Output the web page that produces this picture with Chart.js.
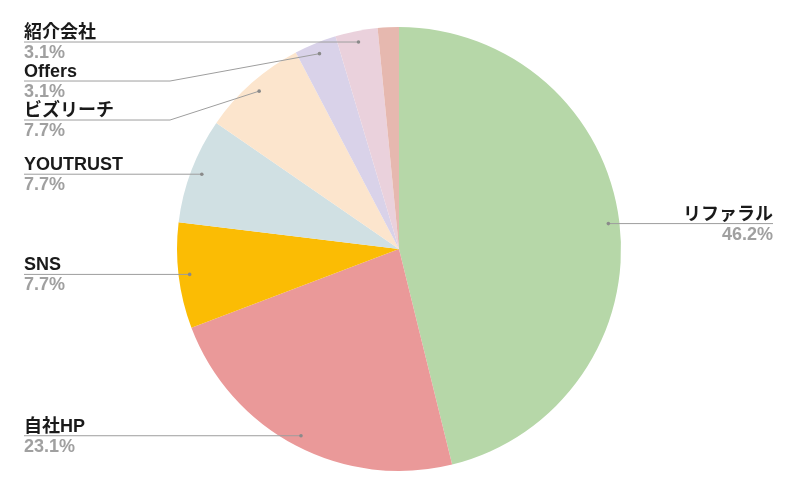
<!DOCTYPE html>
<html>
<head>
<meta charset="utf-8">
<script src="https://cdn.jsdelivr.net/npm/chart.js@4"></script>
<style>
  html, body { margin: 0; padding: 0; background: #fff; }
  #wrap { width: 798px; height: 496px; }
</style>
</head>
<body>
<div id="wrap"><canvas id="chart" width="798" height="496"></canvas></div>
<script>
// channels (clockwise from 12 o'clock)
const labels = ['リファラル', '自社HP', 'SNS', 'YOUTRUST', 'ビズリーチ', 'Offers', '紹介会社', 'その他'];
const counts = [30, 15, 5, 5, 5, 2, 2, 1];
const colors = ['#b6d7a8', '#ea9999', '#fbbc04', '#d0e0e3', '#fce5cd', '#d9d2e9', '#ead1dc', '#e6b8af'];
// which slices get an outside label
const showLabel = [true, true, true, true, true, true, true, false];

const FONT = '"Liberation Sans", Arial, "Noto Sans CJK JP", sans-serif';

/**
 * Google-Sheets-like outside labels: dot in the slice, leader line,
 * name above the line, percentage below it.
 */
const leaderLabels = {
    id: 'leaderLabels',
    afterDatasetsDraw(chart) {
        const ctx = chart.ctx;
        const meta = chart.getDatasetMeta(0);
        const total = counts.reduce((a, b) => a + b, 0);
        const left = [];
        const right = [];

        meta.data.forEach((arc, i) => {
            if (!showLabel[i]) return;
            const mid = (arc.startAngle + arc.endAngle) / 2;
            const r = arc.outerRadius * 0.95;
            const p = {
                i,
                x: arc.x + Math.cos(mid) * r,
                y: arc.y + Math.sin(mid) * r,
                pct: (counts[i] / total * 100).toFixed(1) + '%'
            };
            (p.x < arc.x ? left : right).push(p);
        });

        const place = (list) => {
            list.sort((a, b) => a.y - b.y);
            let prev = -Infinity;
            list.forEach(p => {
                p.ly = Math.max(p.y, prev + 39);
                prev = p.ly;
            });
        };
        place(left);
        place(right);

        ctx.save();
        ctx.lineWidth = 1;

        const drawText = (p, x, align) => {
            ctx.textAlign = align;
            ctx.textBaseline = 'alphabetic';
            ctx.font = 'bold 18px ' + FONT;
            ctx.fillStyle = '#1a1a1a';
            ctx.fillText(labels[p.i], x, p.ly - 4);
            ctx.fillStyle = '#a0a0a0';
            ctx.fillText(p.pct, x, p.ly + 16);
        };

        const dot = (p) => {
            ctx.beginPath();
            ctx.arc(p.x, p.y, 1.8, 0, Math.PI * 2);
            ctx.fillStyle = '#8a8a8a';
            ctx.fill();
        };

        left.forEach(p => {
            ctx.strokeStyle = '#9e9e9e';
            ctx.beginPath();
            ctx.moveTo(24, p.ly);
            ctx.lineTo(Math.min(170, p.x), p.ly);
            ctx.lineTo(p.x, p.y);
            ctx.stroke();
            dot(p);
            drawText(p, 24, 'left');
        });

        right.forEach(p => {
            ctx.strokeStyle = '#9e9e9e';
            ctx.beginPath();
            ctx.moveTo(p.x, p.y);
            ctx.lineTo(Math.max(628, p.x), p.ly);
            ctx.lineTo(773, p.ly);
            ctx.stroke();
            dot(p);
            drawText(p, 773, 'right');
        });
        ctx.restore();
    }
};

new Chart(document.getElementById('chart'), {
    type: 'pie',
    data: {
        labels: labels,
        datasets: [{
            data: counts,
            backgroundColor: colors,
            borderWidth: 0
        }]
    },
    options: {
        responsive: false,
        animation: false,
        layout: { padding: { top: 27, bottom: 25 } },
        plugins: {
            legend: { display: false },
            tooltip: { enabled: false }
        }
    },
    plugins: [leaderLabels]
});
</script>
</body>
</html>
